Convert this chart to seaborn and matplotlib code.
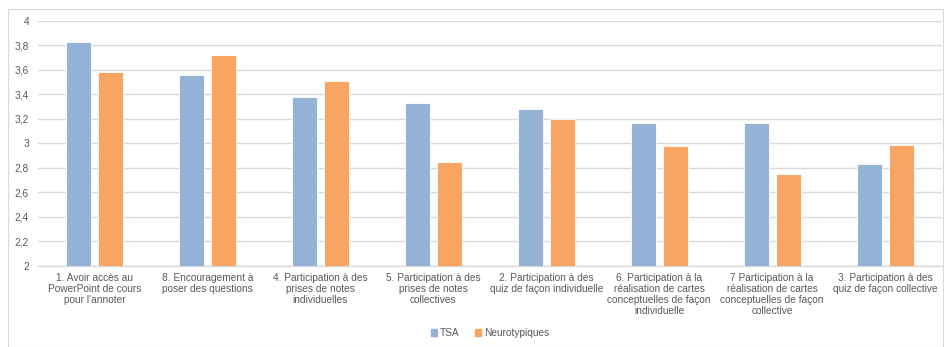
import numpy as np
import pandas as pd
import matplotlib.pyplot as plt
from matplotlib.patches import Rectangle
import seaborn as sns

categories = [
    "1. Avoir accès au\nPowerPoint de cours\npour l'annoter",
    "8. Encouragement à\nposer des questions",
    "4. Participation à des\nprises de notes\nindividuelles",
    "5. Participation à des\nprises de notes\ncollectives",
    "2. Participation à des\nquiz de façon individuelle",
    "6. Participation à la\nréalisation de cartes\nconceptuelles de façon\nindividuelle",
    "7 Participation à la\nréalisation de cartes\nconceptuelles de façon\ncollective",
    "3. Participation à des\nquiz de façon collective",
]
tsa = [3.83, 3.56, 3.38, 3.33, 3.28, 3.17, 3.17, 2.83]
neuro = [3.58, 3.72, 3.51, 2.85, 3.20, 2.98, 2.75, 2.99]
groups = ["TSA", "Neurotypiques"]
colors = ["#95B3D7", "#F8A462"]
yticks = [2.0, 2.2, 2.4, 2.6, 2.8, 3.0, 3.2, 3.4, 3.6, 3.8, 4.0]

df = pd.DataFrame({
    "categorie": categories * 2,
    "groupe": [groups[0]] * len(tsa) + [groups[1]] * len(neuro),
    "score": tsa + neuro,
})

sns.set_style("white")
plt.rcParams["font.family"] = ["Liberation Sans", "DejaVu Sans"]
text_color = "#595959"
grid_color = "#D9D9D9"

fig = plt.figure(figsize=(9.44, 3.47), dpi=100)
fig.patches.append(Rectangle((8 / 944, 0.0), 935 / 944, 1 - 9 / 347,
                             transform=fig.transFigure, fill=False,
                             edgecolor="#D9D9D9", linewidth=0.8))
ax = fig.add_axes([38 / 944, 1 - 265.7 / 347, 903.6 / 944, (265.7 - 21) / 347])

sns.barplot(data=df, x="categorie", y="score", hue="groupe", order=categories,
            hue_order=groups, palette=colors, width=0.566, gap=0.22,
            saturation=1, edgecolor="white", linewidth=0.6, ax=ax, zorder=3)

ax.set_ylim(2, 4)
ax.set_xlim(-0.5, len(categories) - 0.5)
ax.set_yticks(yticks)
ax.set_yticklabels([f"{v:g}".replace(".", ",") for v in yticks])
ax.yaxis.grid(True, color=grid_color, linewidth=1.0, zorder=0)
ax.set_axisbelow(True)
for side in ["top", "right", "left"]:
    ax.spines[side].set_visible(False)
ax.spines["bottom"].set_color(grid_color)
ax.spines["bottom"].set_linewidth(1.0)
ax.tick_params(axis="both", length=0, colors=text_color, labelsize=7.3)
ax.tick_params(axis="y", pad=6.5)
ax.tick_params(axis="x", pad=5)
for lbl in ax.get_xticklabels():
    lbl.set_linespacing(1.12)
ax.set_xlabel("")
ax.set_ylabel("")

ax.legend_.remove()
handles = [Rectangle((0, 0), 1, 1, color=c) for c in colors]
fig.legend(handles, groups, loc="center", bbox_to_anchor=(490 / 944, 1 - 333 / 347),
           ncol=2, frameon=False, fontsize=7.3, labelcolor=text_color,
           handlelength=0.6, handleheight=0.6, handletextpad=0.3, columnspacing=1.5)

fig.savefig("out.png", dpi=100)
